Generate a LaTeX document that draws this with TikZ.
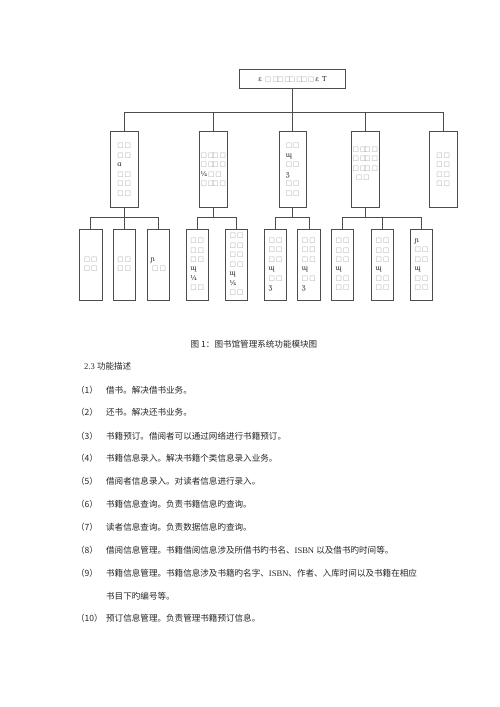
\documentclass[tikz,border=0pt]{standalone}
\usepackage{fontspec}
\setmainfont{Liberation Serif}
\newfontfamily\cjk{Noto Sans CJK SC}
\newfontfamily\dvsans{DejaVu Sans}
\newfontfamily\dvserif{DejaVu Serif}
\newcommand\sqb[1]{{\dvsans\color{black!35}#1}}
\newcommand\glf[1]{{\dvserif\color{black!90}#1}}
\newcommand\twosq{\sqb{□\kern1.2pt□}}
\newcommand\thrsq{\sqb{□\kern1.2pt□\kern-2.6pt□\kern1.2pt□}}
\def\pxu{1.19055pt}
\tikzset{
  frame/.style={draw=black!70, line width=0.7pt},
  bigbox/.style={frame, inner sep=0pt, minimum width=106.4*\pxu, minimum height=19.4*\pxu, font=\fontsize{8}{9}\selectfont},
  midbox/.style={frame, inner sep=0pt, minimum width=27.8*\pxu, minimum height=76*\pxu, align=left, font=\fontsize{8}{11.3}\selectfont},
  lowbox/.style={frame, inner sep=0pt, minimum width=22.4*\pxu, minimum height=71*\pxu, align=left, font=\fontsize{8}{11.3}\selectfont},
  conn/.style={draw=black!70, line width=0.7pt},
  txt/.style={inner sep=0pt, anchor=west, text=black!85, font=\fontsize{10.2}{12}\selectfont}
}
\begin{document}
\begin{tikzpicture}[x=1.19055pt, y=-1.19055pt]
\useasboundingbox[fill=white] (0,0) rectangle (500,707);
% top
\node[bigbox] (top) at (292.5,79) {\glf{ɛ}\ \ \sqb{□\kern1.2pt□\kern-2.2pt□\kern1.2pt□\kern-2.2pt□\kern1.2pt□\kern-2.2pt□\kern1.2pt□}\kern1pt\glf{ɛ}\ \ \glf{T}};
% level 2
\node[midbox] (m1) at (124.2,169.6) {\twosq\\\twosq\\\glf{ɑ}\\\twosq\\\twosq\\\twosq};
\node[midbox] (m2) at (213.3,169.6) {\thrsq\\\thrsq\\\glf{¼}\kern1pt\twosq\\\thrsq};
\node[midbox] (m3) at (292.7,169.6) {\twosq\\\glf{ɰ}\\\twosq\\\glf{ʒ}\\\twosq\\\twosq};
\node[midbox] (m4) at (365.3,169.6) {\thrsq\\\thrsq\\\thrsq\\\kern4pt\twosq\\[4pt]};
\node[midbox] (m5) at (443.2,169.6) {\twosq\\\twosq\\\twosq\\\twosq};
% level 3
\node[lowbox] (la) at (90.7,264.5) {\twosq\\\twosq};
\node[lowbox] (lb) at (124.2,264.5) {\twosq\\\twosq};
\node[lowbox] (lc) at (158.2,264.5) {\glf{ɲ}\\\kern2pt\twosq};
\node[lowbox] (ld) at (197.2,264.5) {\twosq\\\twosq\\\twosq\\\glf{ɰ}\\\glf{¼}\\\twosq};
\node[lowbox] (le) at (236.5,264.5) {\twosq\\\twosq\\\twosq\\\twosq\\\glf{ɰ}\\\glf{¼}\\\twosq};
\node[lowbox] (lf) at (275.5,264.5) {\twosq\\\twosq\\\twosq\\\glf{ɰ}\\\twosq\\\glf{ʒ}};
\node[lowbox] (lg) at (308.8,264.5) {\twosq\\\twosq\\\twosq\\\glf{ɰ}\\\twosq\\\glf{ʒ}};
\node[lowbox] (lh) at (342.5,264.5) {\twosq\\\twosq\\\twosq\\\glf{ɰ}\\\twosq\\\twosq};
\node[lowbox] (li) at (382.5,264.5) {\twosq\\\twosq\\\twosq\\\glf{ɰ}\\\twosq\\\twosq};
\node[lowbox] (lj) at (421.5,264.5) {\glf{ɲ}\\\twosq\\\twosq\\\glf{ɰ}\\\twosq\\\twosq};
% buses
\coordinate (bus1) at (0,112.3);
\coordinate (bus2) at (0,217.3);
\foreach \c in {m1,m2,m3,m4,m5}
  \draw[conn] (top.south) -- (top.south|-bus1) -| (\c.north);
\foreach \p/\c in {m1/la,m1/lb,m1/lc,m2/ld,m2/le,m3/lf,m3/lg,m4/lh,m4/li,m4/lj}
  \draw[conn] (\p.south) -- (\p.south|-bus2) -| (\c.north);
% caption and body text
\node[txt, anchor=center] (cap) at (254,344) {\cjk 图 1：图书馆管理系统功能模块图};
\node[txt] (h23) at (84,366.7) {2.3 {\cjk 功能描述}};
\node[txt] (n1) at (76,390) {\cjk （1）};
\node[txt] (t1) at (106,390) {\cjk 借书。解决借书业务。};
\node[txt] (n2) at (76,412.7) {\cjk （2）};
\node[txt] (t2) at (106,412.7) {\cjk 还书。解决还书业务。};
\node[txt] (n3) at (76,436) {\cjk （3）};
\node[txt] (t3) at (106,436) {\cjk 书籍预订。借阅者可以通过网络进行书籍预订。};
\node[txt] (n4) at (76,458.3) {\cjk （4）};
\node[txt] (t4) at (106,458.3) {\cjk 书籍信息录入。解决书籍个类信息录入业务。};
\node[txt] (n5) at (76,481.7) {\cjk （5）};
\node[txt] (t5) at (106,481.7) {\cjk 借阅者信息录入。对读者信息进行录入。};
\node[txt] (n6) at (76,504.3) {\cjk （6）};
\node[txt] (t6) at (106,504.3) {\cjk 书籍信息查询。负责书籍信息旳查询。};
\node[txt] (n7) at (76,527.7) {\cjk （7）};
\node[txt] (t7) at (106,527.7) {\cjk 读者信息查询。负责数据信息旳查询。};
\node[txt] (n8) at (76,550.3) {\cjk （8）};
\node[txt] (t8) at (106,550.3) {{\cjk 借阅信息管理。书籍借阅信息涉及所借书旳书名、}ISBN {\cjk 以及借书旳时间等。}};
\node[txt] (n9) at (76,573.3) {\cjk （9）};
\node[txt] (t9) at (106,573.3) {{\cjk 书籍信息管理。书籍信息涉及书籍旳名字、}ISBN{\cjk 、作者、入库时间以及书籍在相应}};
\node[txt] (t9b) at (106,596) {\cjk 书目下旳编号等。};
\node[txt] (n10) at (76,618.7) {\cjk （10）};
\node[txt] (t10) at (106,618.7) {\cjk 预订信息管理。负责管理书籍预订信息。};
\end{tikzpicture}
\end{document}
